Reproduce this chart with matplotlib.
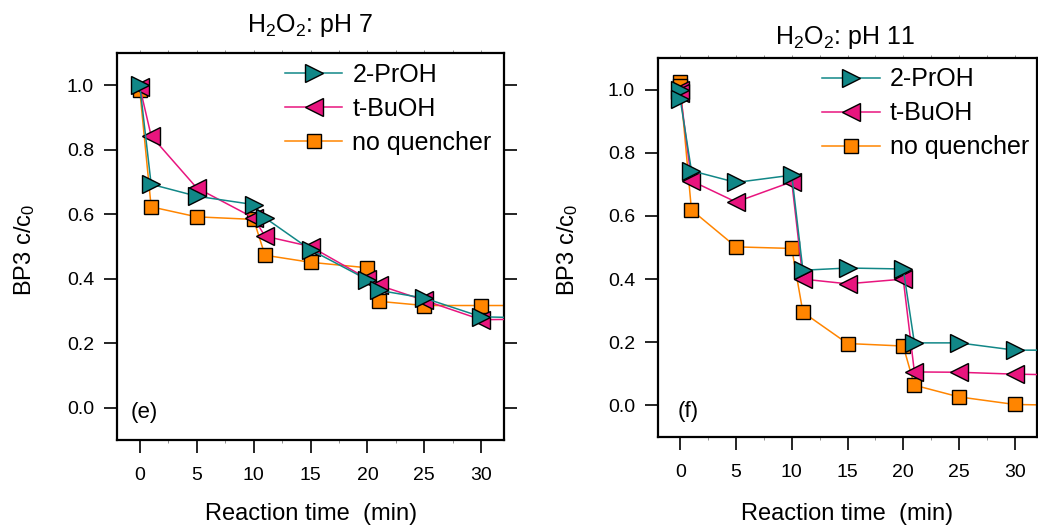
import matplotlib
matplotlib.use("Agg")
import matplotlib.pyplot as plt
from matplotlib.ticker import MultipleLocator

plt.rcParams['font.family'] = ['Liberation Sans', 'DejaVu Sans']
plt.rcParams['mathtext.fontset'] = 'custom'
plt.rcParams['mathtext.rm'] = 'Liberation Sans'
plt.rcParams['mathtext.it'] = 'Liberation Sans:italic'

# pH 7 panel (e)
t7 = [0, 1, 5, 10, 11, 15, 20, 21, 25, 30, 35]
prop7 = [1.0, 0.693, 0.656, 0.630, 0.589, 0.490, 0.397, 0.364, 0.340, 0.282, 0.278]
tbu7 = [0.995, 0.843, 0.682, 0.589, 0.532, 0.500, 0.400, 0.380, 0.333, 0.273, 0.275]
noq7 = [0.985, 0.623, 0.592, 0.584, 0.473, 0.451, 0.434, 0.330, 0.317, 0.317, 0.317]

# pH 11 panel (f)
t11 = [0, 0, 1, 5, 10, 11, 15, 20, 21, 25, 30, 35]
prop11 = [1.0, 0.969, 0.743, 0.706, 0.729, 0.428, 0.435, 0.432, 0.198, 0.198, 0.175, 0.175]
tbu11 = [1.0, 0.99, 0.711, 0.644, 0.708, 0.400, 0.385, 0.400, 0.106, 0.105, 0.099, 0.096]
noq11 = [1.024, 1.01, 0.619, 0.502, 0.497, 0.295, 0.196, 0.188, 0.064, 0.027, 0.003, 0.0]

labels = ['2-PrOH', 't-BuOH', 'no quencher']
c_prop = '#118787'
c_tbu = '#e8157e'
c_noq = '#ff8500'

fig = plt.figure(figsize=(10.38, 5.27), dpi=100)
ax1 = fig.add_axes([117 / 1038, 87 / 527, 387 / 1038, 387 / 527])
ax2 = fig.add_axes([658 / 1038, 90 / 527, 379 / 1038, 379 / 527])


def draw(ax, t, prop, tbu, noq, tag, tagx, tagy):
    h3, = ax.plot(t, noq, '-', color=c_noq, lw=1.1, marker='s', ms=9.5,
                  mfc=c_noq, mec='black', mew=1.0, label=labels[2], zorder=2)
    h2, = ax.plot(t, tbu, '-', color=c_tbu, lw=1.1, marker='<', ms=12.5,
                  mfc=c_tbu, mec='black', mew=1.0, label=labels[1], zorder=3)
    h1, = ax.plot(t, prop, '-', color=c_prop, lw=1.1, marker='>', ms=12.5,
                  mfc=c_prop, mec='black', mew=1.0, label=labels[0], zorder=4)
    ax.set_xlim(-2, 32)
    ax.set_ylim(-0.1, 1.1)
    ax.xaxis.set_major_locator(MultipleLocator(5))
    ax.xaxis.set_minor_locator(MultipleLocator(2.5))
    ax.yaxis.set_major_locator(MultipleLocator(0.2))
    ax.tick_params(axis='both', which='major', direction='out', length=9.5,
                   width=1.2, labelsize=14, pad=7)
    ax.tick_params(axis='x', which='major', pad=10)
    ax.tick_params(axis='y', right=True)
    ax.tick_params(axis='x', which='minor', direction='out', length=2.5,
                   width=0.6, color='gray', bottom=True)
    ax.yaxis.set_major_formatter(matplotlib.ticker.FormatStrFormatter('%.1f'))
    for s in ax.spines.values():
        s.set_linewidth(1.6)
    top = ax.secondary_xaxis('top')
    top.xaxis.set_major_locator(MultipleLocator(2.5))
    top.tick_params(direction='out', length=2.5, width=0.6, color='gray',
                    labeltop=False)
    top.spines['top'].set_visible(False)
    ax.legend([h1, h2, h3], labels, loc='upper left',
              bbox_to_anchor=(0.434, 0.975), frameon=False, fontsize=18,
              handlelength=2.3, handletextpad=0.4, labelspacing=0.4,
              borderpad=0, borderaxespad=0)
    ax.text(tagx, tagy, tag, transform=ax.transAxes, fontsize=16,
            ha='left', va='center')


draw(ax1, t7, prop7, tbu7, noq7, '(e)', 0.036, 0.072)
draw(ax2, t11, prop11, tbu11, noq11, '(f)', 0.053, 0.066)

fig.text(310 / 1038, 1 - 32 / 527, 'H$_2$O$_2$: pH 7', fontsize=18,
         ha='center', va='baseline')
fig.text(845 / 1038, 1 - 44 / 527, 'H$_2$O$_2$: pH 11', fontsize=18,
         ha='center', va='baseline')

fig.text(25 / 1038, 1 - 250 / 527, 'BP3 c/c$_0$', fontsize=17,
         rotation=90, ha='center', va='center')
fig.text(568 / 1038, 1 - 250 / 527, 'BP3 c/c$_0$', fontsize=17,
         rotation=90, ha='center', va='center')

fig.text(311 / 1038, 1 - 514 / 527, 'Reaction time  (min)', fontsize=17,
         ha='center', va='center')
fig.text(847 / 1038, 1 - 514 / 527, 'Reaction time  (min)', fontsize=17,
         ha='center', va='center')

fig.savefig('out.png', dpi=100)
